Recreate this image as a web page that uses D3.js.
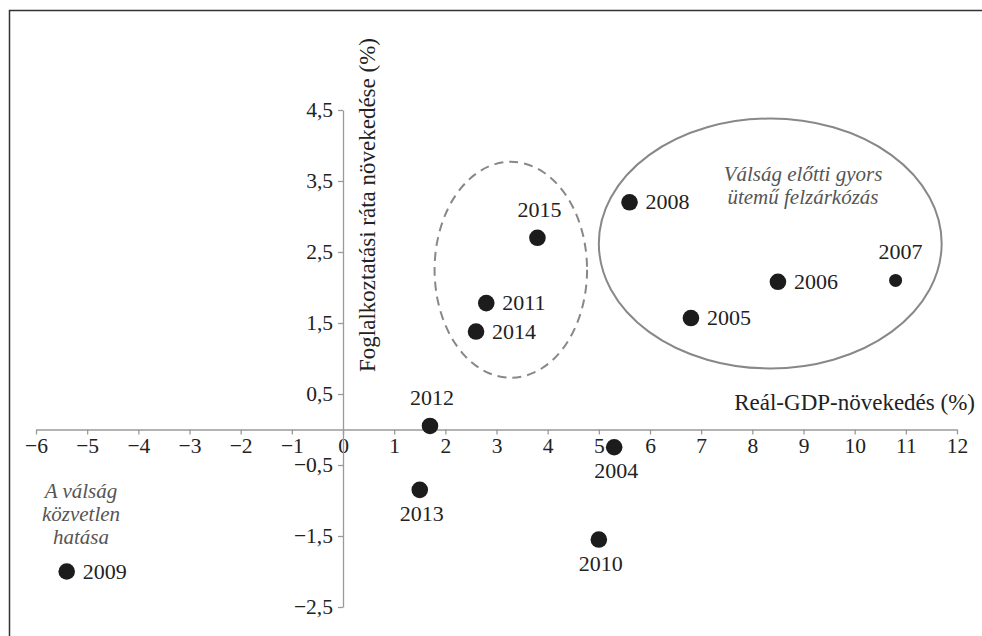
<!DOCTYPE html>
<html>
<head>
<meta charset="utf-8">
<script src="https://cdn.jsdelivr.net/npm/d3@7"></script>
<style>
  body { margin: 0; background: #fff; }
  svg { font-family: "Liberation Serif", "DejaVu Serif", serif; }
</style>
</head>
<body>
<svg id="chart" width="982" height="636"></svg>
<script>
// years, GDP growth (x) and employment rate growth (y)
let years = ["2004", "2005", "2006", "2007", "2008", "2009", "2010", "2011", "2012", "2013", "2014", "2015"];
let gdp = [5.3, 6.8, 8.5, 10.8, 5.6, -5.4, 5.0, 2.8, 1.7, 1.5, 2.6, 3.8];
let emp = [-0.25, 1.57, 2.08, 2.1, 3.2, -2.0, -1.55, 1.78, 0.05, -0.85, 1.38, 2.7];
// where each year label sits relative to its dot
let labelSide = ["below", "right", "right", "above", "right", "right", "below", "right", "above", "below", "right", "above"];

let xTicks = [-6, -5, -4, -3, -2, -1, 0, 1, 2, 3, 4, 5, 6, 7, 8, 9, 10, 11, 12];
let yTicks = [-2.5, -1.5, -0.5, 0.5, 1.5, 2.5, 3.5, 4.5];

let xTitle = "Reál-GDP-növekedés (%)";
let yTitle = "Foglalkoztatási ráta növekedése (%)";
let noteLeft = ["A válság", "közvetlen", "hatása"];
let noteRight = ["Válság előtti gyors", "ütemű felzárkózás"];

// ellipses drawn around groups, in data units: cx, cy, rx, ry
let groupRecent = [3.28, 2.25, 1.49, 1.52];
let groupBoom = [8.35, 2.62, 3.35, 1.76];

drawChart();

function drawChart() {
  let svg = d3.select("#chart");

  svg.append("rect")
    .attr("width", 982).attr("height", 636).attr("fill", "#fff");

  // frame
  svg.append("path")
    .attr("d", "M9.5,640 V10.5 H990")
    .attr("fill", "none")
    .attr("stroke", "#333")
    .attr("stroke-width", 1.5);

  let xScale = d3.scaleLinear().domain([-6, 12]).range([36, 957]);
  let yScale = d3.scaleLinear().domain([-2.5, 4.5]).range([607, 110]);

  let locale = d3.formatLocale({ decimal: ",", thousands: " ", grouping: [3], currency: ["", ""], minus: "\u2212" });
  let fmtX = locale.format("d");
  let fmtY = locale.format(".1f");

  let xAxis = d3.axisBottom(xScale).tickValues(xTicks).tickFormat(fmtX)
    .tickSize(5).tickSizeOuter(0).tickPadding(3);
  let yAxis = d3.axisLeft(yScale).tickValues(yTicks).tickFormat(fmtY)
    .tickSize(5).tickSizeOuter(0).tickPadding(5);

  let gx = svg.append("g")
    .attr("transform", `translate(0,${yScale(0)})`)
    .call(xAxis);
  let gy = svg.append("g")
    .attr("transform", `translate(${xScale(0)},0)`)
    .call(yAxis);

  [gx, gy].forEach((g) => {
    g.select(".domain").attr("stroke", "#9a9a9a").attr("stroke-width", 1.3);
    g.selectAll(".tick line").attr("stroke", "#9a9a9a").attr("stroke-width", 1.3);
    g.selectAll(".tick text")
      .attr("fill", "#222")
      .style("font-size", "21.5px")
      .style("font-family", "Liberation Serif");
  });

  // axis titles
  svg.append("text")
    .attr("x", 975).attr("y", 410)
    .attr("text-anchor", "end")
    .attr("fill", "#222")
    .style("font-size", "23px")
    .text(xTitle);

  svg.append("text")
    .attr("transform", "translate(375,372) rotate(-90)")
    .attr("text-anchor", "start")
    .attr("fill", "#222")
    .style("font-size", "23px")
    .text(yTitle);

  // group ellipses
  svg.append("ellipse")
    .attr("cx", xScale(groupRecent[0])).attr("cy", yScale(groupRecent[1]))
    .attr("rx", xScale(groupRecent[2]) - xScale(0))
    .attr("ry", yScale(0) - yScale(groupRecent[3]))
    .attr("fill", "none")
    .attr("stroke", "#888")
    .attr("stroke-width", 2)
    .attr("stroke-dasharray", "9,6");

  svg.append("ellipse")
    .attr("cx", xScale(groupBoom[0])).attr("cy", yScale(groupBoom[1]))
    .attr("rx", xScale(groupBoom[2]) - xScale(0))
    .attr("ry", yScale(0) - yScale(groupBoom[3]))
    .attr("fill", "none")
    .attr("stroke", "#888")
    .attr("stroke-width", 2);

  // italic notes
  svg.append("text")
    .attr("text-anchor", "middle")
    .attr("fill", "#555")
    .style("font-size", "21px")
    .style("font-style", "italic")
    .selectAll("tspan")
    .data(noteLeft)
    .enter()
    .append("tspan")
    .attr("x", 81)
    .attr("y", (d, i) => 498 + i * 23)
    .text((d) => d);

  svg.append("text")
    .attr("text-anchor", "middle")
    .attr("fill", "#555")
    .style("font-size", "21px")
    .style("font-style", "italic")
    .selectAll("tspan")
    .data(noteRight)
    .enter()
    .append("tspan")
    .attr("x", 803)
    .attr("y", (d, i) => 181 + i * 23)
    .text((d) => d);

  // points
  let data = years.map((y, i) => ({ year: y, x: gdp[i], y: emp[i], side: labelSide[i] }));

  svg.selectAll(".dot")
    .data(data)
    .enter()
    .append("circle")
    .attr("class", "dot")
    .attr("cx", (d) => xScale(d.x))
    .attr("cy", (d) => yScale(d.y))
    .attr("r", (d) => (d.year === "2007" ? 6.5 : 8.3))
    .attr("fill", "#1c1c1c");

  svg.selectAll(".lbl")
    .data(data)
    .enter()
    .append("text")
    .attr("class", "lbl")
    .attr("fill", "#222")
    .style("font-size", "22px")
    .attr("text-anchor", (d) => (d.side === "right" ? "start" : "middle"))
    .attr("x", (d) => {
      if (d.side === "right") return xScale(d.x) + 16;
      if (d.year === "2007") return xScale(d.x) + 5;
      return xScale(d.x) + 2;
    })
    .attr("y", (d) => {
      if (d.side === "right") return yScale(d.y) + 7;
      if (d.side === "above") return yScale(d.y) - 21;
      return yScale(d.y) + 31;
    })
    .text((d) => d.year);
}
</script>
</body>
</html>
